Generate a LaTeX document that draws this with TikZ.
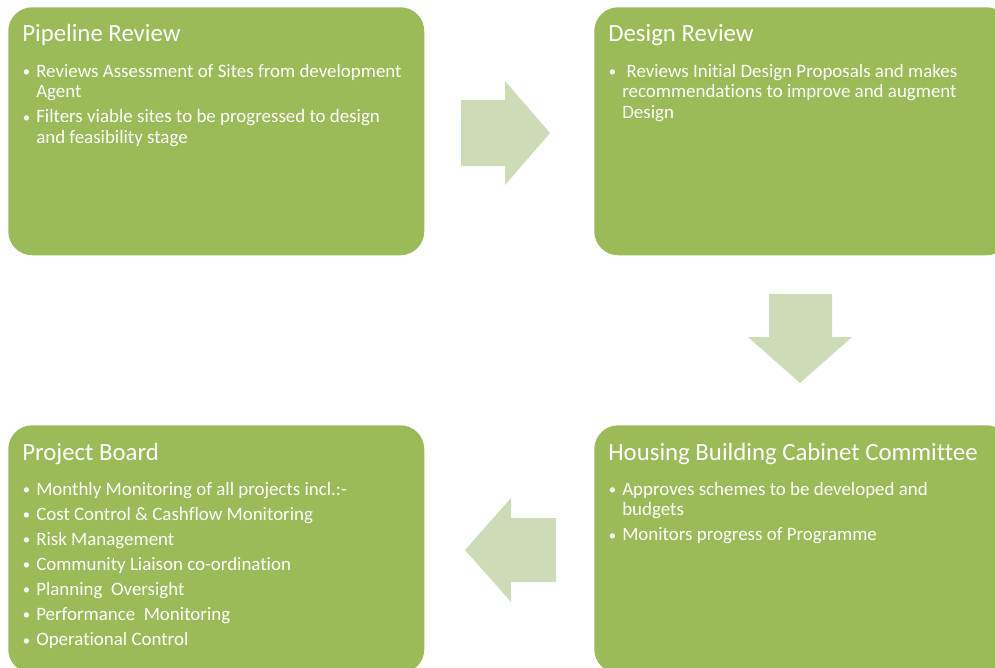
\documentclass[tikz,border=0pt]{standalone}
\usepackage{fontspec}
\setmainfont{Carlito}[Ligatures=NoCommon]
\usetikzlibrary{positioning}

\definecolor{stagegreen}{HTML}{9BBB59}
\definecolor{arrowgreen}{HTML}{CDDCB7}

% bullet and hanging indent for the list lines
\newcommand{\itembullet}{\makebox[10pt][l]{\raisebox{0.5pt}{\fontsize{11pt}{11pt}\selectfont\textbullet}}}
\newcommand{\itemcont}{\hspace*{10pt}}

\tikzset{
  stage/.style={fill=stagegreen, rounded corners=18pt, minimum width=312pt,
    minimum height=186pt, anchor=north west, inner sep=0pt},
  stagetitle/.style={anchor=base west, text=white, inner sep=0pt,
    xshift=10.5pt, yshift=-26.25pt, font=\fontsize{18.6pt}{22pt}\selectfont},
  stagetext/.style={anchor=north west, text=white, inner sep=0pt, align=left,
    xshift=11pt, yshift=-39.5pt, font=\fontsize{14.2pt}{15.4pt}\selectfont},
  flowarrow/.style={fill=arrowgreen}
}

\begin{document}
\begin{tikzpicture}[x=0.75pt, y=-0.75pt]
    \useasboundingbox (0,0) rectangle (995,667);
    \clip (0,0) rectangle (995,667);

    % Stage boxes
    \node[stage] (pipeline) at (8,7) {};
    \node[stage] (design) at (594,7) {};
    \node[stage] (housing) at (594,425) {};
    \node[stage] (board) at (8,425) {};

    % Pipeline review
    \node[stagetitle] (pipeline-title) at (pipeline.north west) {Pipeline Review};
    \node[stagetext] (pipeline-text) at (pipeline.north west) {\rule{0pt}{13pt}\itembullet Reviews Assessment of Sites from development\\
      \itemcont Agent\\[3.4pt]
      \itembullet Filters viable sites to be progressed to design\\
      \itemcont and feasibility stage};

    % Design review
    \node[stagetitle] (design-title) at (design.north west) {Design Review};
    \node[stagetext] (design-text) at (design.north west) {\rule{0pt}{13pt}\itembullet\ Reviews Initial Design Proposals and makes\\
      \itemcont recommendations to improve and augment\\
      \itemcont Design};

    % Cabinet committee
    \node[stagetitle] (housing-title) at (housing.north west) {Housing Building Cabinet Committee};
    \node[stagetext] (housing-text) at (housing.north west) {\rule{0pt}{13pt}\itembullet Approves schemes to be developed and\\
      \itemcont budgets\\[3.4pt]
      \itembullet Monitors progress of Programme};

    % Project board
    \node[stagetitle] (board-title) at (board.north west) {Project Board};
    \node[stagetext] (board-text) at (board.north west) {\rule{0pt}{13pt}\itembullet Monthly Monitoring of all projects incl.:-\\[3.4pt]
      \itembullet Cost Control \& Cashflow Monitoring\\[3.4pt]
      \itembullet Risk Management\\[3.4pt]
      \itembullet Community Liaison co-ordination\\[3.4pt]
      \itembullet Planning\ \ Oversight\\[3.4pt]
      \itembullet Performance\ \ Monitoring\\[3.4pt]
      \itembullet Operational Control};

    % Block arrows between stages
    \fill[flowarrow] (461,100) -- (505,100) -- (505,81) -- (550,133) -- (505,185) -- (505,166) -- (461,166) -- cycle;
    \fill[flowarrow] (769,294) -- (832,294) -- (832,337) -- (852,337) -- (800,383) -- (748,337) -- (769,337) -- cycle;
    \fill[flowarrow] (556,518) -- (511,518) -- (511,498) -- (465,550) -- (511,602) -- (511,582) -- (556,582) -- cycle;
\end{tikzpicture}
\end{document}
